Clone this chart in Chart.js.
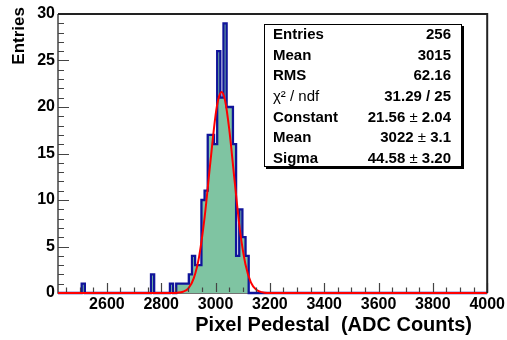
<!DOCTYPE html>
<html>
<head>
<meta charset="utf-8">
<script src="https://cdn.jsdelivr.net/npm/chart.js@4.4.0/dist/chart.umd.min.js"></script>
<style>
  html, body { margin: 0; padding: 0; background: #fff; }
  #pedChart { display: block; }
</style>
</head>
<body>
<canvas id="pedChart" width="507" height="340"></canvas>
<script>
// histogram bins (lower edge in ADC counts, entries)
var binWidth = 11.6;
var binLow = [2507.2, 2762.4, 2832.0, 2855.2, 2866.8, 2878.4, 2890.0, 2901.6, 2913.2, 2924.8, 2936.4,
              2948.0, 2959.6, 2971.2, 2982.8, 2994.4, 3006.0, 3017.6, 3029.2, 3040.8, 3052.4,
              3064.0, 3075.6, 3087.2, 3098.8, 3110.4];
var binCounts = [1, 2, 1, 1, 1, 1, 1, 2, 4, 3, 3,
                 10, 11, 17, 17, 16, 26, 21, 29, 20, 20,
                 16, 4, 9, 6, 4];

// red fit line
var fitX = [2420, 2840, 2860, 2880, 2900, 2920, 2940, 2960, 2980, 3000, 3010, 3022,
            3035, 3050, 3070, 3090, 3110, 3130, 3150, 3170, 3190, 4000];
var fitY = [0, 0, 0.03, 0.14, 0.5, 1.6, 4.0, 8.2, 13.8, 19.1, 20.8, 21.6,
            20.7, 17.7, 12.1, 6.7, 3.1, 1.15, 0.35, 0.09, 0, 0];

var xTickLabels = [2600, 2800, 3000, 3200, 3400, 3600, 3800, 4000];
var yTickLabels = [0, 5, 10, 15, 20, 25, 30];

var statNames = ["Entries", "Mean", "RMS", "\u03c7\u00b2 / ndf", "Constant", "Mean", "Sigma"];
var statValues = ["256", "3015", "62.16", "31.29 / 25", "21.56 \u00b1 2.04", "3022 \u00b1 3.1", "44.58 \u00b1 3.20"];

var xMin = 2420, xMax = 4000;
var fontFam = '"Liberation Sans", Arial, Helvetica, sans-serif';

//build step outline from the bins
var histPoints = [];
var prevHigh = xMin;
for (var i = 0; i < binLow.length; i++) {
    if (binLow[i] - prevHigh > 0.01) histPoints.push({ x: prevHigh, y: 0 });
    histPoints.push({ x: binLow[i], y: binCounts[i] });
    prevHigh = binLow[i] + binWidth;
}
histPoints.push({ x: prevHigh, y: 0 });
histPoints.push({ x: xMax, y: 0 });

var fitPoints = fitX.map(function (x, i) { return { x: x, y: fitY[i] }; });

//frame, inward ticks, titles and the stats box
var rootStyle = {
    id: 'rootStyle',
    beforeDatasetsDraw: function (chart) {
        var a = chart.chartArea, ctx = chart.ctx;
        ctx.save();
        ctx.strokeStyle = '#444';
        ctx.lineWidth = 1.5;
        ctx.beginPath();
        ctx.moveTo(a.left, a.top);
        ctx.lineTo(a.left, a.bottom);
        ctx.lineTo(a.right, a.bottom);
        ctx.stroke();
        ctx.restore();
    },
    afterDatasetsDraw: function (chart) {
        var a = chart.chartArea, ctx = chart.ctx;
        var xs = chart.scales.x, ys = chart.scales.y;
        ctx.save();
        ctx.strokeStyle = '#444';
        ctx.lineWidth = 1.2;
        ctx.beginPath();
        for (var v = 2450; v <= xMax; v += 50) {
            var px = Math.round(xs.getPixelForValue(v)) + 0.5;
            var len = (v % 200 === 0) ? 10 : 5.5;
            ctx.moveTo(px, a.bottom - 1);
            ctx.lineTo(px, a.bottom - len);
        }
        for (var y = 1; y <= 30; y += 1) {
            var py = Math.round(ys.getPixelForValue(y)) + 0.5;
            var l2 = (y % 5 === 0) ? 11 : 6;
            ctx.moveTo(a.left, py);
            ctx.lineTo(a.left + l2, py);
        }
        ctx.stroke();

        ctx.strokeStyle = '#222';
        ctx.lineWidth = 2;
        ctx.beginPath();
        ctx.moveTo(a.left, a.top);
        ctx.lineTo(a.right, a.top);
        ctx.lineTo(a.right, a.bottom);
        ctx.stroke();

        // axis titles
        ctx.fillStyle = '#000';
        ctx.font = 'bold 20px ' + fontFam;
        ctx.textAlign = 'right';
        ctx.textBaseline = 'alphabetic';
        ctx.fillText('Pixel Pedestal  (ADC Counts)', 472, 331);

        ctx.save();
        ctx.translate(24, 7);
        ctx.rotate(-Math.PI / 2);
        ctx.font = 'bold 17px ' + fontFam;
        ctx.textAlign = 'right';
        ctx.fillText('Entries', 0, 0);
        ctx.restore();

        // stats box
        var bx = 264, by = 24, bw = 198, bh = 143;
        ctx.fillStyle = '#000';
        ctx.fillRect(bx + 2, by + 2, bw, bh);
        ctx.fillStyle = '#fff';
        ctx.fillRect(bx, by, bw, bh);
        ctx.strokeStyle = '#000';
        ctx.lineWidth = 1;
        ctx.strokeRect(bx + 0.5, by + 0.5, bw - 1, bh - 1);

        ctx.fillStyle = '#000';
        ctx.textBaseline = 'middle';
        var bold = 'bold 15px ' + fontFam, plain = '15px ' + fontFam;
        for (var r = 0; r < statNames.length; r++) {
            var ry = 35 + r * 20.6;
            ctx.textAlign = 'left';
            ctx.font = statNames[r].indexOf('\u03c7') === 0 ? plain : bold;
            ctx.fillText(statNames[r], 273, ry);

            ctx.textAlign = 'right';
            var parts = statValues[r].split('\u00b1');
            var xr = 451;
            if (parts.length === 2) {
                ctx.font = bold;
                ctx.fillText(parts[1], xr, ry);
                xr -= ctx.measureText(parts[1]).width;
                ctx.font = plain;
                ctx.fillText('\u00b1', xr, ry);
                xr -= ctx.measureText('\u00b1').width;
                ctx.font = bold;
                ctx.fillText(parts[0], xr, ry);
            } else {
                ctx.font = bold;
                ctx.fillText(statValues[r], xr, ry);
            }
        }
        ctx.restore();
    }
};

Chart.defaults.font.family = fontFam;
Chart.defaults.color = '#000';

var ctx = document.getElementById('pedChart').getContext('2d');
window.pedChart = new Chart(ctx, {
    type: 'line',
    data: {
        datasets: [
            {
                label: 'fit',
                data: fitPoints,
                borderColor: '#ff0000',
                borderWidth: 2,
                pointRadius: 0,
                cubicInterpolationMode: 'monotone',
                fill: false,
                clip: 4,
                order: 0
            },
            {
                label: 'pedestal',
                data: histPoints,
                borderColor: '#10149a',
                backgroundColor: '#7fc4a2',
                borderWidth: 2.3,
                pointRadius: 0,
                stepped: true,
                fill: 'origin',
                clip: 4,
                order: 1
            }
        ]
    },
    options: {
        responsive: false,
        animation: false,
        devicePixelRatio: 1,
        layout: { padding: { left: 0, right: 19, top: 14, bottom: 0 } },
        plugins: { legend: { display: false }, tooltip: { enabled: false } },
        scales: {
            x: {
                type: 'linear',
                min: xMin,
                max: xMax,
                grid: { display: false, drawTicks: false },
                border: { display: false },
                ticks: {
                    font: { size: 16, weight: 'bold' },
                    padding: 2,
                    maxRotation: 0,
                    callback: function (v) { return String(v); }
                },
                afterBuildTicks: function (s) { s.ticks = xTickLabels.map(function (v) { return { value: v }; }); },
                afterFit: function (s) { s.height = 47; }
            },
            y: {
                min: 0,
                max: 30,
                grid: { display: false, drawTicks: false },
                border: { display: false },
                ticks: { font: { size: 16, weight: 'bold' }, padding: 3 },
                afterBuildTicks: function (s) { s.ticks = yTickLabels.map(function (v) { return { value: v }; }); },
                afterFit: function (s) { s.width = 58; }
            }
        }
    },
    plugins: [rootStyle]
});
</script>
</body>
</html>
